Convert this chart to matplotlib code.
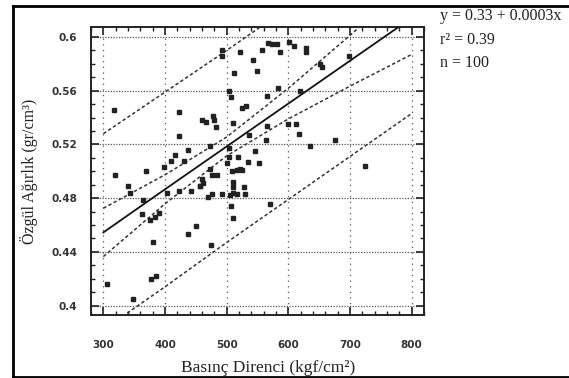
import matplotlib
matplotlib.use("Agg")
import matplotlib.pyplot as plt
from matplotlib.lines import Line2D
from matplotlib.ticker import MultipleLocator

# scatter data: compressive strength vs specific gravity
basinc = [317, 423, 460, 422, 437, 417, 410, 430, 398, 369,
          319, 340, 344, 364, 362, 376, 391, 380, 404, 423,
          442, 456, 438, 450, 306, 348, 378, 385, 492, 492,
          522, 542, 557, 567, 574, 582, 587, 601, 610, 628,
          628, 550, 512, 504, 507, 525, 531, 566, 583, 619,
          651, 655, 698, 478, 479, 482, 511, 565, 600, 612,
          618, 564, 536, 503, 636, 676, 725, 473, 503, 519,
          546, 553, 535, 500, 473, 522, 460, 457, 476, 485,
          509, 516, 525, 510, 511, 511, 528, 470, 477, 492,
          505, 517, 530, 507, 511, 570, 475, 461, 384, 466]
ozgul = [0.546, 0.544, 0.538, 0.526, 0.516, 0.512, 0.508, 0.508, 0.503, 0.500,
         0.497, 0.489, 0.484, 0.479, 0.468, 0.464, 0.469, 0.447, 0.484, 0.485,
         0.485, 0.489, 0.453, 0.459, 0.416, 0.405, 0.420, 0.422, 0.590, 0.586,
         0.589, 0.583, 0.590, 0.5955, 0.5946, 0.5946, 0.589, 0.596, 0.593, 0.592,
         0.589, 0.575, 0.573, 0.560, 0.555, 0.547, 0.549, 0.556, 0.562, 0.560,
         0.580, 0.578, 0.586, 0.541, 0.538, 0.533, 0.536, 0.534, 0.535, 0.535,
         0.528, 0.523, 0.527, 0.517, 0.519, 0.523, 0.504, 0.519, 0.511, 0.511,
         0.515, 0.506, 0.507, 0.506, 0.502, 0.502, 0.494, 0.489, 0.497, 0.497,
         0.500, 0.501, 0.501, 0.492, 0.488, 0.484, 0.488, 0.481, 0.483, 0.483,
         0.482, 0.483, 0.483, 0.474, 0.465, 0.476, 0.445, 0.491, 0.466, 0.537]

# regression line and bands, read at these x positions
band_x = [300, 400, 500, 600, 700, 800]
fit_y = [0.4545, 0.4866, 0.5185, 0.5504, 0.5823, 0.6142]
conf_upper = [0.4725, 0.4974, 0.5255, 0.5618, 0.6012, 0.6414]
conf_lower = [0.4365, 0.4758, 0.5115, 0.5390, 0.5634, 0.5870]
pred_upper = [0.528, 0.559, 0.590, 0.622, 0.654, 0.686]
pred_lower = [0.382, 0.414, 0.447, 0.479, 0.511, 0.543]

x_ticks = [300, 400, 500, 600, 700, 800]
y_ticks = [0.4, 0.44, 0.48, 0.52, 0.56, 0.6]
y_ticklabels = ["0.4", "0.44", "0.48", "0.52", "0.56", "0.6"]

stats_lines = ["y = 0.33 + 0.0003x", "r\u00b2 = 0.39", "n = 100"]

serif = ["Liberation Serif", "DejaVu Serif"]
tickfont = ["Liberation Sans Narrow", "DejaVu Sans"]

fig = plt.figure(figsize=(5.69, 3.78), dpi=100)
ax = fig.add_axes([0.160, 0.1667, 0.585, 0.762])

ax.set_xlim(280, 820)
ax.set_ylim(0.393, 0.6075)

dash = (0, (2.2, 1.6))
ax.plot(band_x, fit_y, color="#111111", lw=1.3, zorder=3)
for band in (conf_upper, conf_lower, pred_upper, pred_lower):
    ax.plot(band_x, band, color="#333333", lw=1.1, linestyle=dash, zorder=3)

ax.plot(basinc, ozgul, linestyle="none", marker="s", markersize=2.6,
        color="#222222", zorder=4)

# grid: dotted lines at the major ticks
for xv in x_ticks:
    ax.axvline(xv, color="#555555", lw=0.9, linestyle=(0, (1, 3.5)), zorder=1)
for yv in y_ticks:
    ax.axhline(yv, color="#555555", lw=0.9, linestyle=(0, (1, 1.2)), zorder=1)

ax.set_xticks(x_ticks)
ax.set_yticks(y_ticks)
ax.set_yticklabels(y_ticklabels)
ax.xaxis.set_minor_locator(MultipleLocator(20))
ax.yaxis.set_minor_locator(MultipleLocator(0.01))
ax.tick_params(which="both", direction="in", top=True, right=True, color="#222222")
ax.tick_params(which="major", length=6, width=1.2)
ax.tick_params(which="minor", length=2.8, width=1.0)
ax.tick_params(axis="x", which="major", pad=18)
ax.tick_params(axis="y", which="major", pad=10)
for lab in ax.get_xticklabels() + ax.get_yticklabels():
    lab.set_family(tickfont)
    lab.set_fontweight("bold")
    lab.set_fontsize(7.5)
    lab.set_color("#333333")

for sp in ax.spines.values():
    sp.set_linewidth(1.4)
    sp.set_color("#222222")

ax.set_xlabel("Bas\u0131n\u00e7 Direnci (kgf/cm\u00b2)", family=serif, fontsize=12.5,
              color="#222222")
ax.xaxis.set_label_coords(0.532, -0.155)
ax.set_ylabel("\u00d6zg\u00fcl A\u011f\u0131rl\u0131k (gr/cm\u00b3)", family=serif,
              fontsize=11.5, color="#222222")
ax.yaxis.set_label_coords(-0.16, 0.498)

for i, line in enumerate(stats_lines):
    fig.text(0.773, 0.957 - i * 0.062, line, family=serif, fontsize=11.5,
             color="#222222", va="center", ha="left")

# outer border (left, top, bottom)
fig.add_artist(Line2D([0.023, 0.023], [0.0, 0.985], transform=fig.transFigure,
                      color="black", lw=2.0))
fig.add_artist(Line2D([0.023, 1.0], [0.985, 0.985], transform=fig.transFigure,
                      color="black", lw=2.0))
fig.add_artist(Line2D([0.023, 1.0], [0.003, 0.003], transform=fig.transFigure,
                      color="black", lw=2.0))

plt.savefig("out.png", dpi=100)
